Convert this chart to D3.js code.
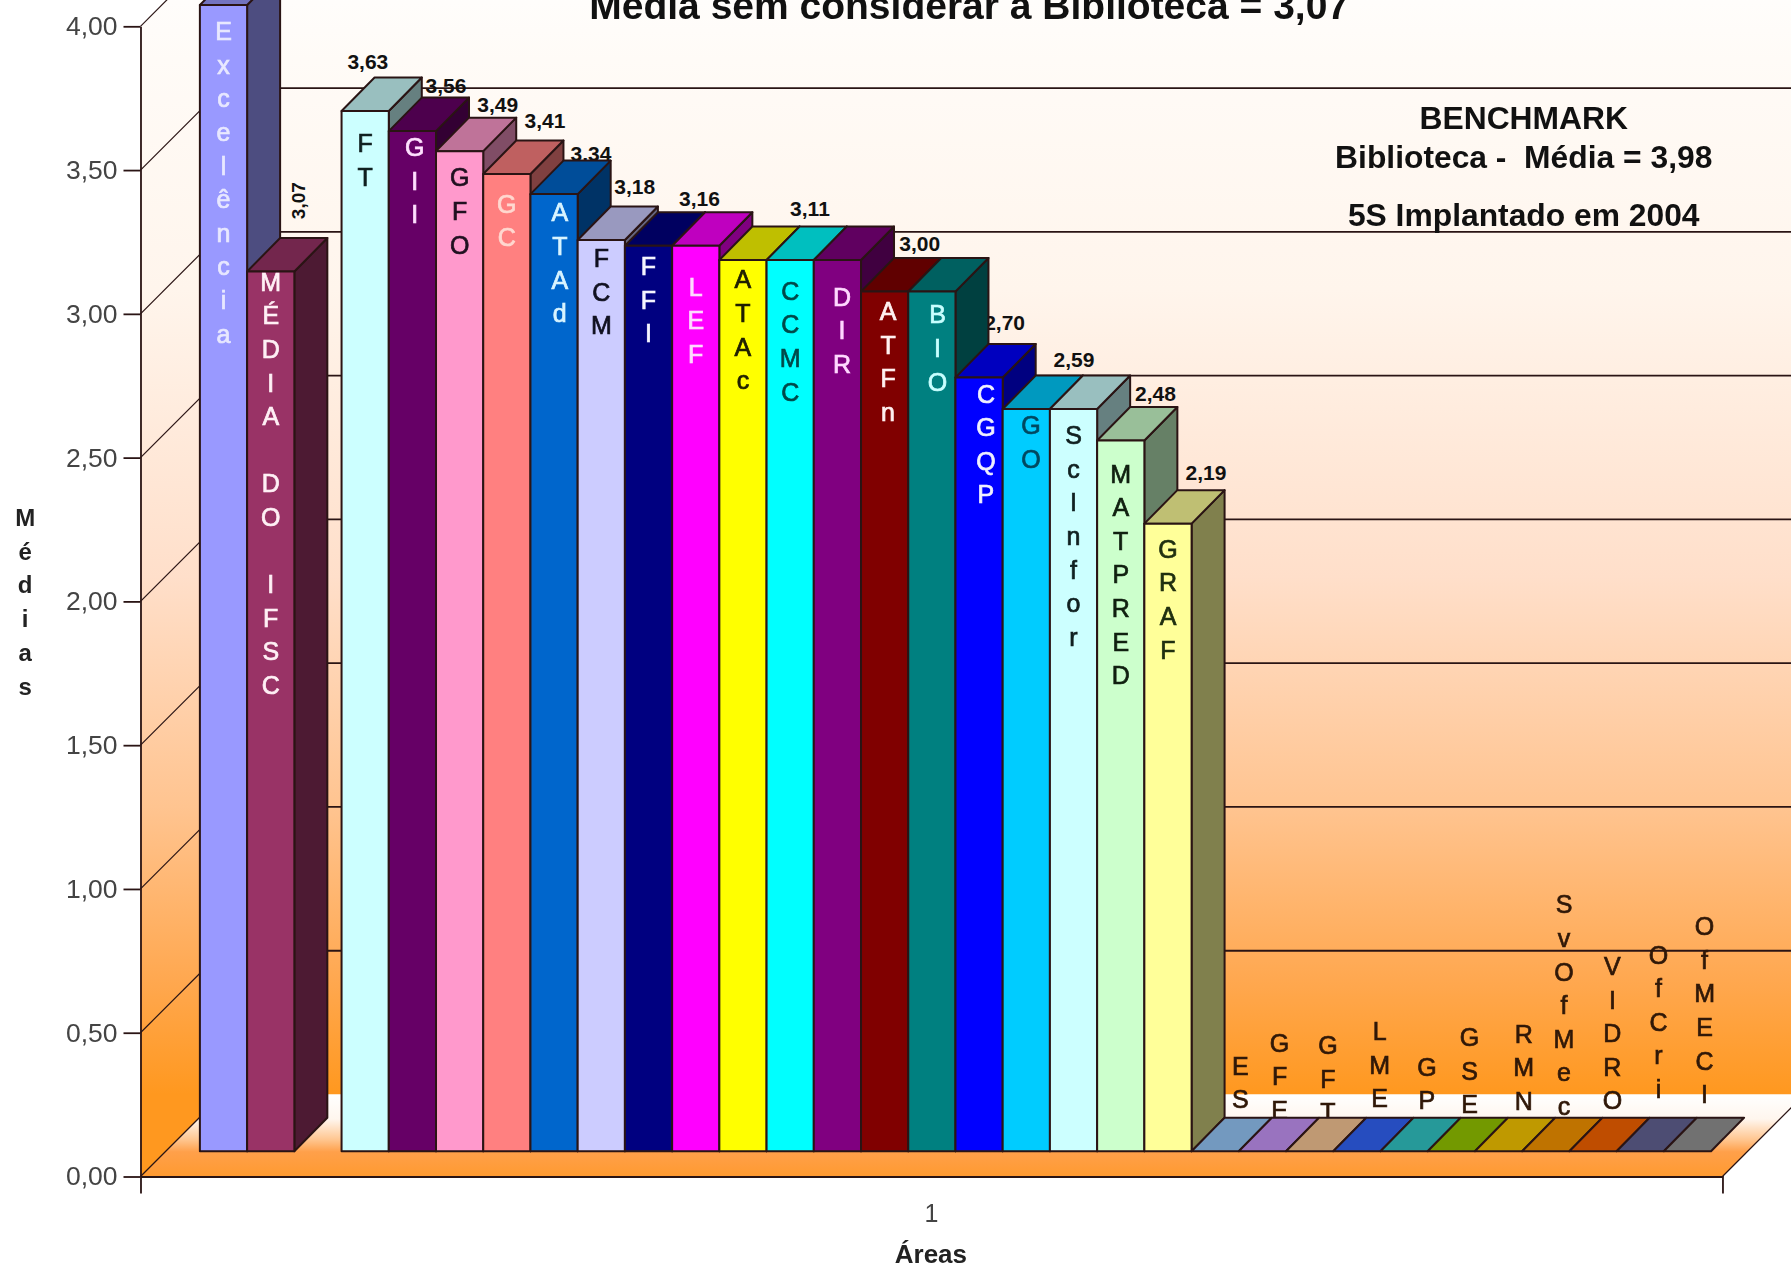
<!DOCTYPE html>
<html><head><meta charset="utf-8">
<script src="https://cdn.jsdelivr.net/npm/d3@7/dist/d3.min.js"></script>
<style>html,body{margin:0;padding:0;background:#fff;overflow:hidden}svg{display:block;filter:blur(0.5px)}text{font-family:"Liberation Sans",Arial,sans-serif}</style>
</head><body><div id="chart"></div>
<script>
// ---- data ----
const areas = ["Excelência","MÉDIA DO IFSC","-","FT","GII","GFO","GC","ATAd","FCM","FFI","LEF","ATAc","CCMC","DIR","ATFn","BIO","CGQP","GO","ScInfor","MATPRED","GRAF","ES","GFE","GFT","LME","GP","GSE","RMN","SvOfMec","VIDRO","OfCri","OfMECI"];
const medias = [4.00,3.07,null,3.63,3.56,3.49,3.41,3.34,3.18,3.16,3.16,3.11,3.11,3.11,3.00,3.00,2.70,2.59,2.59,2.48,2.19,0,0,0,0,0,0,0,0,0,0,0];
const cores = ["#9999FF","#993366",null,"#CCFFFF","#660066","#FF99CC","#FF8080","#0066CC","#CCCCFF","#000080","#FF00FF","#FFFF00","#00FFFF","#800080","#800000","#008080","#0000FF","#00CCFF","#CCFFFF","#CCFFCC","#FFFF99","#99CCFF","#CC99FF","#FFCC99","#3366FF","#33CCCC","#99CC00","#FFCC00","#FF9900","#FF6600","#666699","#969696"];
const corTexto = ["#E8E8FF","#FFF0F5",null,"#102020","#FFE0FF","#201020","#FFD8D0","#D8F4FF","#101020","#F4F4FF","#FFD8FF","#202000","#004848","#FFD8FF","#FFF0F0","#C8FFFF","#F0F0FF","#004860","#102020","#102010","#203010","#301808","#301808","#301808","#301808","#301808","#301808","#301808","#301808","#301808","#301808","#301808"];
const rotulosValor = ["FT","GII","GFO","GC","ATAd","FCM","LEF","CCMC","BIO","CGQP","ScInfor","MATPRED","GRAF"];
const yTicks = [0,0.5,1,1.5,2,2.5,3,3.5,4];
const titulo = "Média sem considerar a Biblioteca = 3,07";
const notas = ["BENCHMARK","Biblioteca -  Média = 3,98","5S Implantado em 2004"];

// ---- layout (in units of the 1568-wide view, scaled by k) ----
const k = 1791/1568;
const W = 1791, H = 1268;
const depthBar = 33, depthBarY = 33.5;
const depthWall = 82;
const letterStep = 29.4*k;
const axisX = 123*k, axisEnd = 1508*k;
// gap from the front top to the first letter's centre
const letterGap = [23,9,0,28,14,23,26,16,16,18,36,17,27,32,17,20,14,14,23,29,22,-75,-95,-93,-105,-74,-100,-103,-216,-162,-172,-197];
const letterDx = [0,0,0,0,2,0,0,5,0,0,0,0,0,4,3,5,6,4,0,0,0,22,15,16,20,20,16,22,16,17,16,15];
const rotDx = {FT:23,GII:50,GFO:54,GC:54,ATAd:53,FCM:50,LEF:24,CCMC:38,BIO:10,CGQP:43,ScInfor:21,MATPRED:51,GRAF:54};
const rotDy = {FT:-43,GII:-40,GFO:-41,GC:-47,ATAd:-36,FCM:-47,LEF:-41,CCMC:-45,BIO:-42,CGQP:-48,ScInfor:-43,MATPRED:-41,GRAF:-45};

const y = d3.scaleLinear().domain([0,4]).range([1176.5,26.3]);       // axis and walls
const yBar = d3.scaleLinear().domain([0,4]).range([1151.2,5]);       // bars stand further into the floor
const x = d3.scaleBand().domain(areas).range([175*k,1498*k]).padding(0);
const xAxisScale = d3.scaleBand().domain(["1"]).range([axisX,axisEnd]);
const fmt = v => d3.format(".2f")(v).replace(".",",");
const shade = (c,f) => { const r=d3.rgb(c); return d3.rgb(r.r*f,r.g*f,r.b*f).formatHex(); };

const svg = d3.select("#chart").append("svg").attr("width",W).attr("height",H);
const defs = svg.append("defs");
const grad = (id,y1,y2,stops) => {
  const g = defs.append("linearGradient").attr("id",id).attr("gradientUnits","userSpaceOnUse")
    .attr("x1",0).attr("x2",0).attr("y1",y1).attr("y2",y2);
  stops.forEach(s => g.append("stop").attr("offset",s[0]).attr("stop-color",s[1]));
};
const wallBottom = y(0)-depthWall;
grad("wall",y(4)-depthWall,wallBottom,[[0,"#FFFFFF"],[0.1,"#FFFBF7"],[0.3,"#FFF5EC"],[0.55,"#FFDFCA"],[0.75,"#FFC490"],[0.9,"#FFA850"],[1,"#FF981F"]]);
grad("floor",wallBottom,y(0),[[0,"#FFFFFF"],[0.3,"#FFF6EE"],[0.55,"#FFC690"],[0.7,"#FFA04A"],[1,"#FF9A30"]]);
const line = d3.line();
const ink = "#2A1414";

// walls
svg.append("path").attr("d",line([[axisX,y(0)],[axisX,y(4)],[axisX+depthWall,y(4)-depthWall],[axisX+depthWall,wallBottom]])+"Z").attr("fill","url(#wall)");
svg.append("rect").attr("x",axisX+depthWall).attr("y",0).attr("width",W-axisX-depthWall).attr("height",wallBottom).attr("fill","url(#wall)");
// floor
svg.append("path").attr("d",line([[axisX,y(0)],[axisEnd,y(0)],[axisEnd+depthWall,wallBottom],[axisX+depthWall,wallBottom]])+"Z").attr("fill","url(#floor)");
// gridlines
yTicks.forEach(t => {
  if (t>0) svg.append("line").attr("x1",axisX+depthWall).attr("x2",W).attr("y1",y(t)-depthWall).attr("y2",y(t)-depthWall).attr("stroke",ink).attr("stroke-width",1.8);
  svg.append("line").attr("x1",axisX).attr("y1",y(t)).attr("x2",axisX+depthWall).attr("y2",y(t)-depthWall).attr("stroke",ink).attr("stroke-width",1.2);
});
svg.append("line").attr("x1",axisEnd).attr("y1",y(0)).attr("x2",axisEnd+depthWall).attr("y2",wallBottom).attr("stroke",ink).attr("stroke-width",1.2);

// value labels sit behind the bars
rotulosValor.forEach(n => {
  const i = areas.indexOf(n);
  svg.append("text").attr("x",x(n)+rotDx[n]*k).attr("y",yBar(medias[i])+rotDy[n]*k).attr("dy","0.36em")
    .attr("text-anchor","middle").attr("font-size",21).attr("font-weight","bold").attr("fill","#111").text(fmt(medias[i]));
});
svg.append("text").attr("transform",`translate(${x(areas[1])+45*k},${yBar(medias[1])-62*k}) rotate(-90)`).attr("dy","0.36em")
  .attr("text-anchor","middle").attr("font-size",19).attr("font-weight","bold").attr("fill","#111").text(fmt(medias[1]));

const letters = (g,i) => {
  Array.from(areas[i]).forEach((ch,j) => {
    if (ch===" ") return;
    g.append("text").attr("x",x(areas[i])+x.bandwidth()/2+letterDx[i]*k)
      .attr("y",yBar(medias[i])+letterGap[i]*k+j*letterStep).attr("dy","0.36em")
      .attr("text-anchor","middle").attr("font-size",25).attr("fill",corTexto[i])
      .attr("stroke",corTexto[i]).attr("stroke-width",0.7).text(ch);
  });
};
// the names of the empty areas are covered by their flat bars
areas.forEach((a,i)=>{ if (medias[i]===0) letters(svg,i); });

// bars
areas.forEach((a,i) => {
  const v = medias[i];
  if (v===null) return;
  const x0 = x(a), x1 = x0+x.bandwidth();
  const yt = yBar(v), yb = yBar(0);
  const g = svg.append("g");
  const poly = (pts,fill) => g.append("path").attr("d",line(pts)+"Z").attr("fill",fill).attr("stroke",ink).attr("stroke-width",2).attr("stroke-linejoin","round");
  if (v>0) poly([[x1,yb],[x1,yt],[x1+depthBar,yt-depthBarY],[x1+depthBar,yb-depthBarY]],shade(cores[i],0.5));
  poly([[x0,yt],[x1,yt],[x1+depthBar,yt-depthBarY],[x0+depthBar,yt-depthBarY]],shade(cores[i],0.75));
  if (v>0) { poly([[x0,yb],[x1,yb],[x1,yt],[x0,yt]],cores[i]); letters(g,i); }
});

// axes
const axLeft = svg.append("g").attr("transform",`translate(${axisX},0)`)
  .call(d3.axisLeft(y).tickValues(yTicks).tickFormat(fmt).tickSizeInner(17).tickSizeOuter(0).tickPadding(6));
axLeft.selectAll("text").attr("font-size",26.5).attr("fill","#444").style("font-family",'"Liberation Sans"');
axLeft.selectAll("line,path").attr("stroke",ink).attr("stroke-width",1.8);
const axBottom = svg.append("g").attr("transform",`translate(0,${y(0)})`)
  .call(d3.axisBottom(xAxisScale).tickSizeInner(0).tickSizeOuter(17).tickPadding(28));
axBottom.selectAll("text").attr("font-size",25).attr("fill","#444").style("font-family",'"Liberation Sans"');
axBottom.select("path").attr("stroke",ink).attr("stroke-width",1.8).attr("fill","none");

// titles
svg.append("text").attr("x",848.5*k).attr("y",18.5).attr("text-anchor","middle").attr("font-size",39).attr("font-weight","bold").attr("fill","#111").text(titulo);
[[notas[0],103],[notas[1],137],[notas[2],188]].forEach(d => {
  svg.append("text").attr("x",1334*k).attr("y",d[1]*k).attr("dy","0.36em").attr("text-anchor","middle").attr("font-size",31.8).attr("font-weight","bold").attr("fill","#111").style("white-space","pre").text(d[0]);
});
svg.append("text").attr("x",815*k).attr("y",1097.5*k).attr("dy","0.36em").attr("text-anchor","middle").attr("font-size",26).attr("font-weight","bold").attr("fill","#222").text("Áreas");
Array.from("Médias").forEach((c,j) => {
  svg.append("text").attr("x",22*k).attr("y",(453+29.5*j)*k).attr("dy","0.36em").attr("text-anchor","middle").attr("font-size",24).attr("font-weight","bold").attr("fill","#222").text(c);
});
</script></body></html>
